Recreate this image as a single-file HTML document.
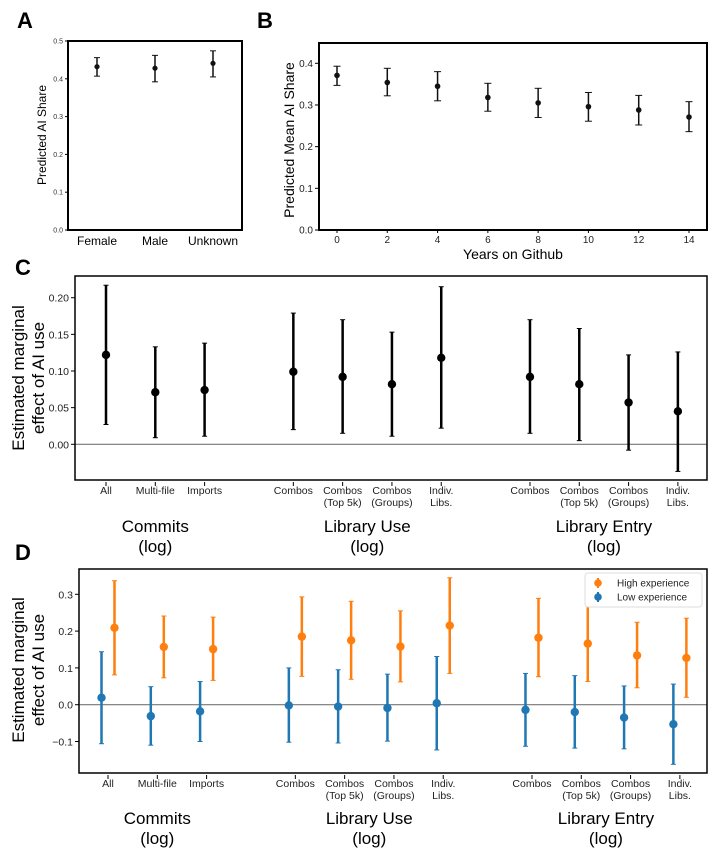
<!DOCTYPE html>
<html><head><meta charset="utf-8"><style>
html,body{margin:0;padding:0;background:#fff;}
svg{display:block;font-family:"Liberation Sans","DejaVu Sans",sans-serif;}
</style></head><body>
<svg id="fig" width="715" height="854" viewBox="0 0 715 854" xmlns="http://www.w3.org/2000/svg">
<text x="17" y="28" font-size="22" font-weight="bold">A</text>
<text x="257" y="28" font-size="22" font-weight="bold">B</text>
<text x="15" y="275" font-size="22" font-weight="bold">C</text>
<text x="15" y="560" font-size="22" font-weight="bold">D</text>
</svg>
<script>
// Panel A data
const aCats = ["Female","Male","Unknown"];
const aVals = [0.432,0.428,0.441];
const aLo = [0.407,0.392,0.405];
const aHi = [0.456,0.462,0.474];
const aTicks = [0,0.1,0.2,0.3,0.4,0.5];
// Panel B data
const bYears = [0,2,4,6,8,10,12,14];
const bVals = [0.371,0.354,0.345,0.318,0.305,0.296,0.288,0.271];
const bLo = [0.347,0.322,0.310,0.285,0.270,0.261,0.252,0.236];
const bHi = [0.393,0.388,0.380,0.352,0.340,0.330,0.323,0.308];
const bTicks = [0,0.1,0.2,0.3,0.4];
// Panel C/D categories
const cdCats = [["All"],["Multi-file"],["Imports"],["Combos"],["Combos","(Top 5k)"],["Combos","(Groups)"],["Indiv.","Libs."],["Combos"],["Combos","(Top 5k)"],["Combos","(Groups)"],["Indiv.","Libs."]];
const cdGroups = [["Commits","(log)"],["Library Use","(log)"],["Library Entry","(log)"]];
// Panel C data
const cVals = [0.122,0.071,0.074,0.099,0.092,0.082,0.118,0.092,0.082,0.057,0.045];
const cLo = [0.027,0.009,0.011,0.020,0.015,0.011,0.022,0.015,0.005,-0.008,-0.037];
const cHi = [0.217,0.133,0.138,0.179,0.170,0.153,0.215,0.170,0.158,0.122,0.126];
const cTicks = [0,0.05,0.10,0.15,0.20];
// Panel D data
const dHigh = [0.209,0.157,0.151,0.185,0.175,0.158,0.215,0.182,0.166,0.134,0.127];
const dHighLo = [0.081,0.073,0.066,0.077,0.069,0.062,0.085,0.076,0.063,0.046,0.020];
const dHighHi = [0.337,0.241,0.238,0.293,0.281,0.255,0.345,0.289,0.271,0.224,0.235];
const dLow = [0.019,-0.031,-0.018,-0.002,-0.005,-0.009,0.004,-0.014,-0.020,-0.035,-0.053];
const dLowLo = [-0.106,-0.110,-0.100,-0.102,-0.104,-0.099,-0.123,-0.113,-0.118,-0.120,-0.162];
const dLowHi = [0.144,0.049,0.063,0.100,0.095,0.083,0.131,0.085,0.079,0.051,0.056];
const dTicks = [-0.1,0,0.1,0.2,0.3];

const svg=document.getElementById('fig');
const NS="http://www.w3.org/2000/svg";
function mk(tag,attrs,txt){const e=document.createElementNS(NS,tag);for(const k in attrs)e.setAttribute(k,attrs[k]);if(txt!==undefined)e.textContent=txt;svg.appendChild(e);return e;}
function lin(d0,d1,r0,r1){return v=>r0+(v-d0)/(d1-d0)*(r1-r0);}
const unitPos=[0,1,2,3.8,4.8,5.8,6.8,8.6,9.6,10.6,11.6];

function errbar(x,y,lo,hi,col,w,cap,r,name){
  let l=mk('line',{x1:x,x2:x,y1:y(lo),y2:y(hi),stroke:col,'stroke-width':w});
  
  
  if(cap){
    let c1=mk('line',{x1:x-cap,x2:x+cap,y1:y(lo),y2:y(lo),stroke:col,'stroke-width':1});
    
    
    let c2=mk('line',{x1:x-cap,x2:x+cap,y1:y(hi),y2:y(hi),stroke:col,'stroke-width':1});
    
    
  }
  let p=mk('circle',{cx:x,cy:y(0)+0,r:r,fill:col});
  return p;
}

// ---------- Panel A ----------
{
  const y=lin(0,0.5,230,41);
  aTicks.forEach(t=>{
    let tk=mk('line',{x1:65,x2:68,y1:y(t),y2:y(t),stroke:'#000','stroke-width':1});
    
    
    let tl=mk('text',{x:63,y:y(t)+2.5,'font-size':7,'text-anchor':'end',fill:'#333'},t.toFixed(1));
    
    
  });
  aCats.forEach((c,i)=>{
    const x=97+58*i;
    let tl=mk('text',{x:x,y:245,'font-size':12,'text-anchor':'middle'},c);
    
    
    let p=errbar(x,y,aLo[i],aHi[i],'#111',1.5,3,2.6,'a-point-'+i);
    p.setAttribute('cy',y(aVals[i]));
    
    
  });
  let f=mk('rect',{x:68,y:41,width:174,height:189,fill:'none',stroke:'#000','stroke-width':2});
  
  
  let yl=mk('text',{x:0,y:0,'font-size':12,'text-anchor':'middle',transform:'translate(46,135) rotate(-90)'},'Predicted AI Share');
  
  
}
// ---------- Panel B ----------
{
  const y=lin(0,0.4,230,63.3);
  const x=lin(0,14,337,689);
  bTicks.forEach(t=>{
    let tk=mk('line',{x1:315,x2:319,y1:y(t),y2:y(t),stroke:'#000','stroke-width':1});
    
    
    let tl=mk('text',{x:313,y:y(t)+3.5,'font-size':10,'text-anchor':'end',fill:'#222'},t.toFixed(1));
    
    
  });
  bYears.forEach((yr,i)=>{
    let tk=mk('line',{x1:x(yr),x2:x(yr),y1:229,y2:233,stroke:'#000','stroke-width':1});
    
    
    let tl=mk('text',{x:x(yr),y:243,'font-size':10,'text-anchor':'middle',fill:'#222'},String(yr));
    
    
    let p=errbar(x(yr),y,bLo[i],bHi[i],'#111',1.5,3.5,2.8,'b-point-'+i);
    p.setAttribute('cy',y(bVals[i]));
    
    
  });
  let f=mk('rect',{x:319,y:43,width:388,height:187,fill:'none',stroke:'#000','stroke-width':2});
  
  
  let xl=mk('text',{x:513,y:259,'font-size':14,'text-anchor':'middle'},'Years on Github');
  
  
  let yl=mk('text',{x:0,y:0,'font-size':14,'text-anchor':'middle',transform:'translate(294,140) rotate(-90)'},'Predicted Mean AI Share');
  
  
}
// ---------- shared for C/D ----------
function catAxis(prefix,x0,tickY,groupY){
  cdCats.forEach((c,i)=>{
    const x=x0+49.3*unitPos[i];
    let tk=mk('line',{x1:x,x2:x,y1:tickY-12,y2:tickY-8,stroke:'#000','stroke-width':1});
    
    
    c.forEach((ln,j)=>{
      let tl=mk('text',{x:x,y:tickY+j*12,'font-size':10.5,'text-anchor':'middle',fill:'#222'},ln);
      
      
    });
  });
  const gc=[1,5.3,10.1];
  cdGroups.forEach((g,i)=>{
    g.forEach((ln,j)=>{
      let tl=mk('text',{x:x0+49.3*gc[i],y:groupY+j*20,'font-size':17,'text-anchor':'middle'},ln);
      
      
    });
  });
}
function yTitle(prefix,cy){
  let a=mk('text',{x:0,y:0,'font-size':17,'text-anchor':'middle',transform:'translate(24,'+cy+') rotate(-90)'},'Estimated marginal');
  
  
  let b=mk('text',{x:0,y:0,'font-size':17,'text-anchor':'middle',transform:'translate(44,'+cy+') rotate(-90)'},'effect of AI use');
  
  
}
// ---------- Panel C ----------
{
  const y=lin(0,0.2,444.3,297.7);
  cTicks.forEach(t=>{
    let tk=mk('line',{x1:71,x2:75,y1:y(t),y2:y(t),stroke:'#000','stroke-width':1});
    
    
    let tl=mk('text',{x:69,y:y(t)+4,'font-size':10.5,'text-anchor':'end',fill:'#222'},t.toFixed(2));
    
    
  });
  let z=mk('line',{x1:75,x2:707,y1:y(0),y2:y(0),stroke:'#777','stroke-width':1.2});
  
  
  cVals.forEach((v,i)=>{
    const x=106+49.3*unitPos[i];
    let p=errbar(x,y,cLo[i],cHi[i],'#000',2.5,2.5,4.2,'c-point-'+i);
    p.setAttribute('cy',y(v));
    
    
  });
  let f=mk('rect',{x:75,y:276,width:632,height:204,fill:'none',stroke:'#000','stroke-width':1.5});
  
  
  catAxis('c',106,494,532);
  yTitle('c',378);
}
// ---------- Panel D ----------
{
  const y=lin(0,0.3,704.7,594.3);
  dTicks.forEach(t=>{
    let tk=mk('line',{x1:75,x2:79,y1:y(t),y2:y(t),stroke:'#000','stroke-width':1});
    
    
    let tl=mk('text',{x:73,y:y(t)+4,'font-size':10.5,'text-anchor':'end',fill:'#222'},(t<0?'\u2212':'')+Math.abs(t).toFixed(1));
    
    
  });
  let z=mk('line',{x1:79,x2:707,y1:y(0),y2:y(0),stroke:'#777','stroke-width':1.2});
  
  
  dLow.forEach((v,i)=>{
    const x=108+49.3*unitPos[i]-6.5;
    let p=errbar(x,y,dLowLo[i],dLowHi[i],'#1f77b4',2.5,2.5,4.2,'d-low-'+i);
    p.setAttribute('cy',y(v));
    
    
  });
  dHigh.forEach((v,i)=>{
    const x=108+49.3*unitPos[i]+6.5;
    let p=errbar(x,y,dHighLo[i],dHighHi[i],'#ff7f0e',2.5,2.5,4.2,'d-high-'+i);
    p.setAttribute('cy',y(v));
    
    
  });
  let f=mk('rect',{x:79,y:569,width:628,height:204,fill:'none',stroke:'#000','stroke-width':1.5});
  
  
  let lg=mk('rect',{x:585,y:573,width:117,height:34,rx:3,fill:'#fff',stroke:'#ddd','stroke-width':1});
  
  
  [['High experience','#ff7f0e',583],['Low experience','#1f77b4',597]].forEach(([t,c,yy])=>{
    let m=mk('line',{x1:598,x2:598,y1:yy-5,y2:yy+5,stroke:c,'stroke-width':2});
    
    
    let d=mk('circle',{cx:598,cy:yy,r:3.8,fill:c});
    
    
    let tx=mk('text',{x:617,y:yy+3.5,'font-size':10,fill:'#222'},t);
    
    
  });
  catAxis('d',108,787,824);
  yTitle('d',670);
}
</script>
</body></html>
